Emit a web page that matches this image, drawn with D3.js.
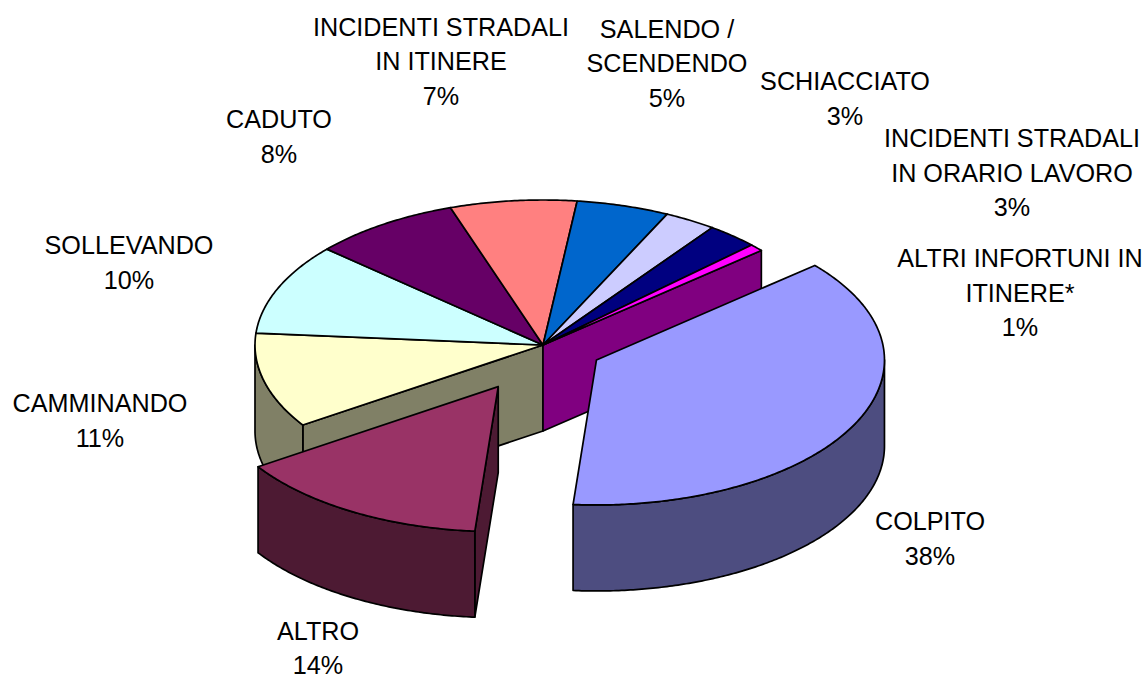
<!DOCTYPE html>
<html><head><meta charset="utf-8">
<script src="https://cdn.jsdelivr.net/npm/d3@7"></script>
<style>html,body{margin:0;padding:0;background:#fff}svg{display:block}text{font-family:"Liberation Sans",Arial,sans-serif;font-size:25.2px;fill:#000;text-anchor:middle}</style>
</head><body><svg id="c" width="1146" height="679"></svg>
<script>
const categories=[["COLPITO"],["ALTRO"],["CAMMINANDO"],["SOLLEVANDO"],["CADUTO"],["INCIDENTI STRADALI","IN ITINERE"],["SALENDO /","SCENDENDO"],["SCHIACCIATO"],["INCIDENTI STRADALI","IN ORARIO LAVORO"],["ALTRI INFORTUNI IN","ITINERE*"]];
const values=[37.6,14.4,10.6,10.2,8.3,7.1,5.2,2.9,2.9,0.8];
const colours=["#9999FF","#993366","#FFFFCC","#CCFFFF","#660066","#FF8080","#0066CC","#CCCCFF","#000080","#FF00FF"];
// layout only
const explode=[60,88,0,0,0,0,0,0,0,0];
const labelX=[930,318,100,129,279,441,667,845,1012,1020];
const labelY=[530,639.5,412,254,128,35.5,37.5,90,147,267];
const lineH=34.6;
const firstAngle=49.3*Math.PI/180;
const cx=543,cy=345,rx=288,ry=145,depth=86,explodeTilt=0.55;

const total=d3.sum(values);
const pct=d3.format(".0f");
const slices=d3.pie().sort(null).startAngle(firstAngle).endAngle(firstAngle+2*Math.PI)(values);
slices.forEach((s,i)=>{
  const mid=(s.startAngle+s.endAngle)/2;
  s.i=i; s.ox=cx+explode[i]*Math.sin(mid); s.oy=cy-explode[i]*Math.cos(mid)*explodeTilt;
});
const svg=d3.select("#c");
const line=d3.line().x(d=>d[0]).y(d=>d[1]);
const pt=(s,a,dz=0)=>[s.ox+rx*Math.sin(a),s.oy-ry*Math.cos(a)+dz];
function arcPts(s,a0,a1,dz=0){const n=Math.max(2,Math.ceil(Math.abs(a1-a0)/0.01));return d3.range(n+1).map(k=>pt(s,a0+(a1-a0)*k/n,dz));}
const half=c=>{const r=d3.rgb(c);return d3.rgb(r.r/2,r.g/2,r.b/2).formatHex();};
const poly=(g,p,fill)=>g.append("path").attr("d",line(p)+"Z").attr("fill",fill).attr("stroke","#000").attr("stroke-width",1.7).attr("stroke-linejoin","round");
const TAU=2*Math.PI;
function drawWalls(g,s){
  const col=half(colours[s.i]);
  [[Math.PI/2,3*Math.PI/2],[Math.PI/2+TAU,3*Math.PI/2+TAU]].forEach(([v0,v1])=>{
    const a0=Math.max(s.startAngle,v0),a1=Math.min(s.endAngle,v1);
    if(a1>a0){const t=arcPts(s,a0,a1),b=arcPts(s,a1,a0,depth);poly(g,t.concat(b),col);}
  });
}
function drawFaces(g,s){
  const n=slices.length,col=half(colours[s.i]);
  const prev=slices[(s.i+n-1)%n],next=slices[(s.i+1)%n];
  const face=a=>poly(g,[[s.ox,s.oy],pt(s,a),pt(s,a,depth),[s.ox,s.oy+depth]],col);
  if(explode[prev.i]!==explode[s.i]&&Math.sin(s.startAngle)<0)face(s.startAngle);
  if(explode[next.i]!==explode[s.i]&&Math.sin(s.endAngle)>0)face(s.endAngle);
}
function drawTop(g,s){poly(g,[[s.ox,s.oy]].concat(arcPts(s,s.startAngle,s.endAngle)),colours[s.i]);}
// main body first, then the pulled-out slices
const body=slices.filter(s=>!explode[s.i]),out=slices.filter(s=>explode[s.i]);
const gm=svg.append("g");
body.forEach(s=>drawFaces(gm,s));
body.forEach(s=>drawWalls(gm,s));
body.forEach(s=>drawTop(gm,s));
out.forEach(s=>{const g=svg.append("g");drawFaces(g,s);drawWalls(g,s);drawTop(g,s);});
// labels
const gl=svg.append("g");
categories.forEach((c,i)=>{
  const t=gl.append("text").attr("x",labelX[i]).attr("y",labelY[i]);
  c.concat(pct(values[i]/total*100)+"%").forEach((l,k)=>t.append("tspan").attr("x",labelX[i]).attr("y",labelY[i]+k*lineH).text(l));
});
</script></body></html>
